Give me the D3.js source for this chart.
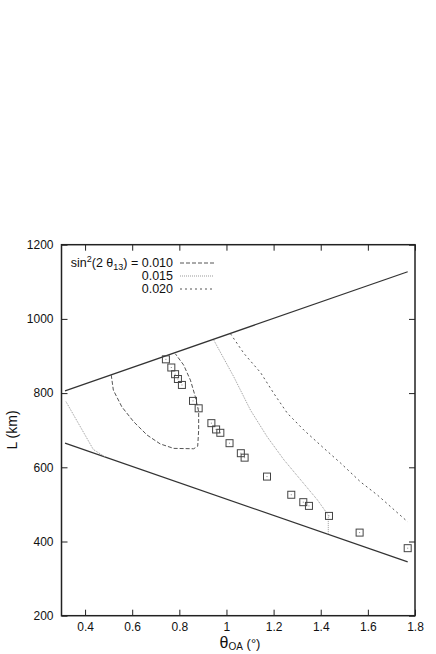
<!DOCTYPE html>
<html>
<head>
<meta charset="utf-8">
<script src="https://cdn.jsdelivr.net/npm/d3@7"></script>
<style>
  body { margin: 0; background: #fff; }
  svg { font-family: "Liberation Sans", Arial, sans-serif; }
</style>
</head>
<body>
<svg width="436" height="654"></svg>
<script>
// Axis ticks
const xTicks = [0.4, 0.6, 0.8, 1, 1.2, 1.4, 1.6, 1.8];
const yTicks = [200, 400, 600, 800, 1000, 1200];

// Boundary lines (theta, L)
const upperBound = [[0.315, 806], [1.769, 1127]];
const lowerBound = [[0.315, 665], [1.769, 345]];

// sin^2(2 theta13) contours
const c010 = [[0.511, 849], [0.520, 808], [0.556, 763], [0.606, 723], [0.663, 687],
  [0.719, 663], [0.776, 651], [0.861, 650], [0.878, 657], [0.882, 700], [0.882, 750],
  [0.868, 790], [0.847, 835], [0.818, 876], [0.783, 906]];
const c015a = [[0.319, 777], [0.435, 648], [0.485, 628]];
const c015b = [[0.946, 943], [1.031, 844], [1.102, 754], [1.173, 682], [1.244, 620],
  [1.315, 566], [1.386, 512], [1.432, 471], [1.432, 419]];
const c020 = [[1.017, 960], [1.074, 907], [1.145, 855], [1.20, 800], [1.258, 746],
  [1.329, 700], [1.414, 651], [1.485, 611], [1.570, 560], [1.641, 525], [1.769, 453]];

// Squares
const points = [[0.743, 891], [0.766, 869], [0.782, 851], [0.794, 838], [0.811, 822],
  [0.858, 779], [0.882, 759], [0.936, 719], [0.956, 702], [0.974, 693], [1.013, 665],
  [1.061, 638], [1.077, 626], [1.172, 575], [1.275, 526], [1.326, 506], [1.350, 496],
  [1.435, 469], [1.565, 424], [1.769, 382]];

const legendLabels = ["0.010", "0.015", "0.020"];

const svg = d3.select("svg");
const x = d3.scaleLinear().domain([0.3, 1.8]).range([61.5, 415]);
const y = d3.scaleLinear().domain([200, 1200]).range([615.7, 244.7]);

const frameColor = "#222";

// axes with inward ticks (mirrored)
function styleAxis(g) {
  g.select(".domain").remove();
  g.selectAll("line").attr("stroke", frameColor).attr("stroke-width", 1);
  g.selectAll("text").attr("fill", "#111").style("font-size", "12px");
}

svg.append("g").attr("transform", "translate(0," + y(200) + ")")
  .call(d3.axisBottom(x).tickValues(xTicks).tickSizeInner(-6).tickSizeOuter(0).tickPadding(7)
    .tickFormat(d3.format("")))
  .call(styleAxis);
svg.append("g").attr("transform", "translate(0," + y(1200) + ")")
  .call(d3.axisTop(x).tickValues(xTicks).tickSizeInner(-6).tickSizeOuter(0).tickFormat(""))
  .call(styleAxis);
svg.append("g").attr("transform", "translate(" + x(0.3) + ",0)")
  .call(d3.axisLeft(y).tickValues(yTicks).tickSizeInner(-6).tickSizeOuter(0).tickPadding(8)
    .tickFormat(d3.format("d")))
  .call(styleAxis);
svg.append("g").attr("transform", "translate(" + x(1.8) + ",0)")
  .call(d3.axisRight(y).tickValues(yTicks).tickSizeInner(-6).tickSizeOuter(0).tickFormat(""))
  .call(styleAxis);

svg.append("rect")
  .attr("x", x(0.3)).attr("y", y(1200))
  .attr("width", x(1.8) - x(0.3)).attr("height", y(200) - y(1200))
  .attr("fill", "none").attr("stroke", frameColor).attr("stroke-width", 1.5);

const line = d3.line().x(d => x(d[0])).y(d => y(d[1]));

// boundaries
[upperBound, lowerBound].forEach(b => {
  svg.append("path").attr("d", line(b))
    .attr("fill", "none").attr("stroke", "#333").attr("stroke-width", 1.2);
});

const styles = [
  { stroke: "#555", dash: "4,2" },
  { stroke: "#999", dash: "1,1" },
  { stroke: "#555", dash: "2,3" }
];

svg.append("path").attr("d", line(c010)).attr("fill", "none")
  .attr("stroke", styles[0].stroke).attr("stroke-dasharray", styles[0].dash).attr("stroke-width", 1);
[c015a, c015b].forEach(c => {
  svg.append("path").attr("d", line(c)).attr("fill", "none")
    .attr("stroke", styles[1].stroke).attr("stroke-dasharray", styles[1].dash).attr("stroke-width", 1);
});
svg.append("path").attr("d", line(c020)).attr("fill", "none")
  .attr("stroke", styles[2].stroke).attr("stroke-dasharray", styles[2].dash).attr("stroke-width", 1);

// squares
const sq = svg.append("g").selectAll("g").data(points).enter().append("g")
  .attr("transform", d => "translate(" + x(d[0]) + "," + y(d[1]) + ")");
sq.append("rect").attr("x", -3.5).attr("y", -3.5).attr("width", 7).attr("height", 7)
  .attr("fill", "none").attr("stroke", "#444").attr("stroke-width", 1);
sq.append("rect").attr("x", -0.5).attr("y", -0.5).attr("width", 1).attr("height", 1)
  .attr("fill", "#888");

// legend
const lg = svg.append("g");
const legendY = [263, 276, 289];
legendLabels.forEach((lab, i) => {
  const t = lg.append("text").attr("x", 173).attr("y", legendY[i] + 4)
    .attr("text-anchor", "end").style("font-size", "12.5px").attr("fill", "#111");
  if (i === 0) {
    t.append("tspan").text("sin");
    t.append("tspan").attr("dy", -5).style("font-size", "9px").text("2");
    t.append("tspan").attr("dy", 5).text("(2 θ");
    t.append("tspan").attr("dy", 3).style("font-size", "9px").text("13");
    t.append("tspan").attr("dy", -3).text(") = " + lab);
  } else {
    t.text(lab);
  }
  lg.append("line").attr("x1", 180).attr("x2", 214)
    .attr("y1", legendY[i]).attr("y2", legendY[i])
    .attr("stroke", styles[i].stroke).attr("stroke-dasharray", styles[i].dash)
    .attr("stroke-width", 1);
});

// axis titles
svg.append("text").attr("transform", "translate(17,430) rotate(-90)")
  .attr("text-anchor", "middle").style("font-size", "14px").attr("fill", "#111")
  .text("L (km)");

const xt = svg.append("text").attr("x", 240).attr("y", 648)
  .attr("text-anchor", "middle").attr("fill", "#111").style("font-size", "16px");
xt.append("tspan").text("θ");
xt.append("tspan").attr("dy", 2).style("font-size", "10px").text("OA");
xt.append("tspan").attr("dy", -2).style("font-size", "13px").text(" (°)");
</script>
</body>
</html>
